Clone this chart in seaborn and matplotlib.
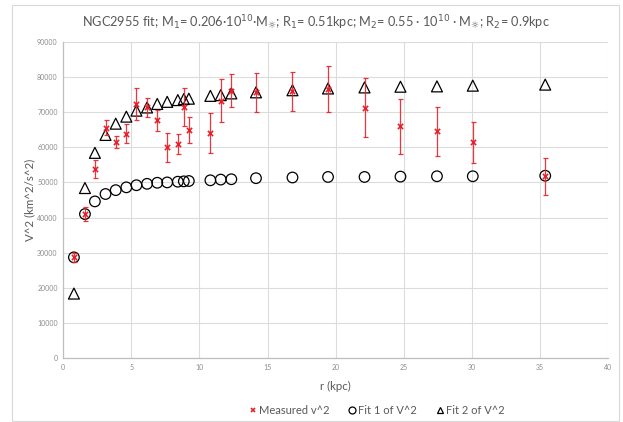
import matplotlib
matplotlib.use("Agg")
import matplotlib.pyplot as plt
from matplotlib.patches import Rectangle
from matplotlib.lines import Line2D
import seaborn as sns
import pandas as pd

# Rotation curve of NGC2955: radius (kpc) and squared velocities (km^2/s^2)
radius = [0.78, 1.59, 2.32, 3.10, 3.85, 4.63, 5.37, 6.15, 6.90, 7.63, 8.41, 8.85,
          9.22, 10.80, 11.56, 12.34, 14.15, 16.83, 19.44, 22.12, 24.76, 27.44,
          30.07, 35.39]
measured_v2 = [28700, 41000, 53900, 65500, 61400, 63900, 72300, 71300, 67600, 60000,
               61000, 71300, 64900, 64000, 73200, 76100, 75600, 75900, 76500, 71200,
               65900, 64500, 61400, 51700]
measured_err = [1300, 1900, 2600, 2100, 1700, 2800, 4600, 2600, 2900, 4100, 2900, 5400,
                3600, 5700, 6100, 4800, 5500, 5500, 6500, 8400, 7800, 6900, 5900, 5200]
fit1_v2 = [28700, 41000, 44600, 46700, 47800, 48600, 49200, 49600, 49900, 50000,
           50200, 50300, 50400, 50600, 50800, 50900, 51200, 51400, 51550, 51550,
           51650, 51750, 51750, 51900]
fit2_v2 = [18400, 48400, 58400, 63500, 66700, 68700, 70400, 71300, 72300, 72900,
           73400, 73700, 73800, 74600, 74800, 75300, 75600, 76200, 76700, 77000,
           77200, 77300, 77500, 77800]

x_ticks = [0, 5, 10, 15, 20, 25, 30, 35, 40]
y_ticks = [0, 10000, 20000, 30000, 40000, 50000, 60000, 70000, 80000, 90000]

df = pd.DataFrame({"r": radius, "meas": measured_v2, "err": measured_err,
                   "fit1": fit1_v2, "fit2": fit2_v2})

sns.set_theme(style="whitegrid")
plt.rcParams["font.family"] = ["Lato", "DejaVu Sans"]
plt.rcParams["mathtext.fontset"] = "dejavusans"

TEXT = "#595959"
TICK = "#8c8c8c"
GRID = "#dcdcdc"
RED = "#e8202a"

fig = plt.figure(figsize=(6.23, 4.22), dpi=100)
fig.patches.append(Rectangle((11.7 / 623, 1 - 420.7 / 422), (619.3 - 11.7) / 623,
                             (420.7 - 5.3) / 422, transform=fig.transFigure,
                             fill=False, edgecolor="#d9d9d9", linewidth=0.8))
ax = fig.add_axes([63.3 / 623, 1 - 358.3 / 422, (608.0 - 63.3) / 623, (358.3 - 41.7) / 422])
ax.set_facecolor("white")

# Fit curves
sns.scatterplot(data=df, x="r", y="fit1", ax=ax, marker="o", s=58,
                facecolor="none", edgecolor="black", linewidth=0.9, zorder=3)
sns.scatterplot(data=df, x="r", y="fit2", ax=ax, marker="^", s=62,
                facecolor="none", edgecolor="black", linewidth=0.9, zorder=3)

# Measurements with error bars
ax.errorbar(df["r"], df["meas"], yerr=df["err"], fmt="none", ecolor=RED,
            elinewidth=0.9, capsize=1.8, capthick=0.9, zorder=4, alpha=0.9)
sns.scatterplot(data=df, x="r", y="meas", ax=ax, marker="x", s=14,
                color=RED, linewidth=1.2, zorder=5)

ax.set_xlim(0, 40)
ax.set_ylim(0, 90000)
ax.set_xticks(x_ticks)
ax.set_yticks(y_ticks)
ax.set_xticklabels([str(t) for t in x_ticks])
ax.set_yticklabels([str(t) for t in y_ticks])
ax.tick_params(axis="both", labelsize=5, colors=TICK, length=0, pad=4)
ax.grid(True, color=GRID, linewidth=0.8)
for side in ["top", "right"]:
    ax.spines[side].set_visible(False)
for side in ["left", "bottom"]:
    ax.spines[side].set_color("#bfbfbf")
    ax.spines[side].set_linewidth(0.9)

ax.set_xlabel("r (kpc)", fontsize=8.3, color=TEXT, labelpad=7)
ax.set_ylabel("V^2 (km^2/s^2)", fontsize=8.3, color=TEXT, labelpad=1)

title = (r"NGC2955 fit; M$_1$= 0.206·10$^{10}$·M$_{☼}$; R$_1$= 0.51kpc; "
         r"M$_2$= 0.55 · 10$^{10}$ · M$_{☼}$; R$_2$= 0.9kpc")
fig.text(316 / 623, 1 - 22.5 / 422, title, ha="center", va="center",
         fontsize=9.2, color=TEXT)

handles = [
    Line2D([], [], linestyle="none", marker="x", color=RED, markersize=3.5, markeredgewidth=1.2),
    Line2D([], [], linestyle="none", marker="o", markerfacecolor="none",
           markeredgecolor="black", markersize=5, markeredgewidth=0.9),
    Line2D([], [], linestyle="none", marker="^", markerfacecolor="none",
           markeredgecolor="black", markersize=5, markeredgewidth=0.9),
]
labels = ["Measured v^2", "Fit 1 of V^2", "Fit 2 of V^2"]
leg = fig.legend(handles, labels, loc="center", bbox_to_anchor=(377 / 623, 1 - 410 / 422),
                 ncol=3, frameon=False, fontsize=8, handlelength=0.6,
                 handletextpad=0.2, columnspacing=1.8)
for t in leg.get_texts():
    t.set_color(TEXT)

fig.savefig("out.png", dpi=100, facecolor="white")
